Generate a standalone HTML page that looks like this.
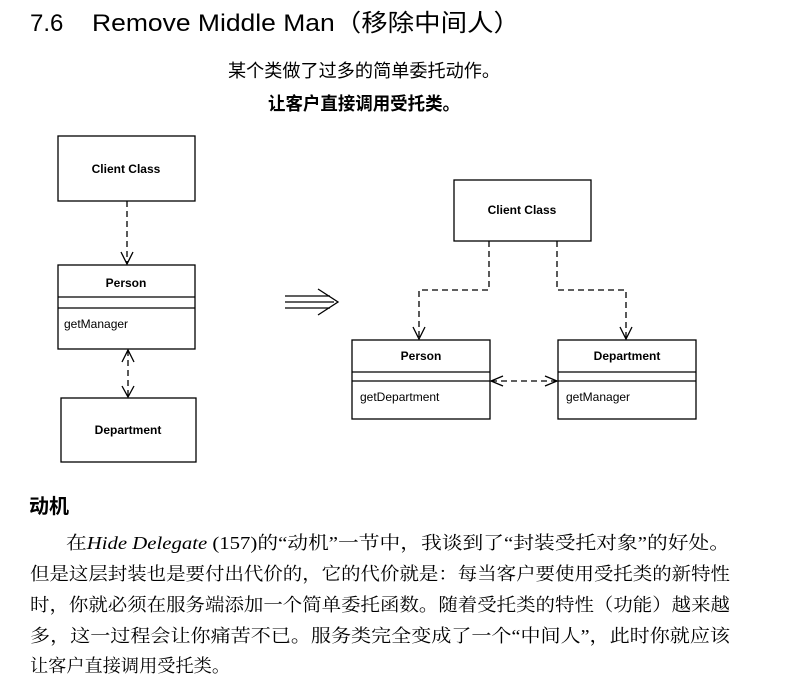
<!DOCTYPE html>
<html><head><meta charset="utf-8"><style>
html,body{margin:0;padding:0;background:#fff;}
svg{display:block}
.c{font-family:"Liberation Serif","Noto Serif CJK SC","Noto Sans CJK SC",serif;}
.s{font-family:"Liberation Sans","Noto Sans CJK SC",sans-serif;}
</style></head><body>
<svg width="793" height="676" viewBox="0 0 793 676" xmlns="http://www.w3.org/2000/svg">
<g class="s" fill="#000">
<text x="30" y="31" font-size="24">7.6</text>
<text x="92" y="31" font-size="24" textLength="428" lengthAdjust="spacingAndGlyphs">Remove Middle Man（移除中间人）</text>
<text x="228" y="77" font-size="18" textLength="272" lengthAdjust="spacingAndGlyphs">某个类做了过多的简单委托动作。</text>
<text x="268" y="110" font-size="18" font-weight="bold" textLength="192" lengthAdjust="spacingAndGlyphs">让客户直接调用受托类。</text>
<text x="29" y="513" font-size="20" font-weight="bold">动机</text>
</g>
<g class="c" fill="#000" font-size="18">
<text x="66" y="549" textLength="664" lengthAdjust="spacingAndGlyphs">在<tspan font-style="italic">Hide Delegate</tspan> (157)的“动机”一节中，我谈到了“封装受托对象”的好处。</text>
<text x="30" y="580" textLength="700" lengthAdjust="spacingAndGlyphs">但是这层封装也是要付出代价的，它的代价就是：每当客户要使用受托类的新特性</text>
<text x="30" y="611" textLength="700" lengthAdjust="spacingAndGlyphs">时，你就必须在服务端添加一个简单委托函数。随着受托类的特性（功能）越来越</text>
<text x="30" y="642" textLength="700" lengthAdjust="spacingAndGlyphs">多，这一过程会让你痛苦不已。服务类完全变成了一个“中间人”，此时你就应该</text>
<text x="30" y="672" textLength="200" lengthAdjust="spacingAndGlyphs">让客户直接调用受托类。</text>
</g>
<g fill="none" stroke="#000" stroke-width="1.3">
<!-- left -->
<rect x="58" y="136" width="137" height="65"/>
<rect x="58" y="265" width="137" height="84"/>
<line x1="58" y1="297" x2="195" y2="297"/>
<line x1="58" y1="308" x2="195" y2="308"/>
<rect x="61" y="398" width="135" height="64"/>
<line x1="127" y1="201" x2="127" y2="264" stroke-dasharray="6,4"/>
<polyline points="121,252 127,264 133,252"/>
<line x1="128" y1="350" x2="128" y2="397" stroke-dasharray="6,4"/>
<polyline points="122,362 128,350 134,362"/>
<polyline points="122,386 128,397 134,386"/>
<!-- right -->
<rect x="454" y="180" width="137" height="61"/>
<rect x="352" y="340" width="138" height="79"/>
<line x1="352" y1="372" x2="490" y2="372"/>
<line x1="352" y1="381" x2="490" y2="381"/>
<rect x="558" y="340" width="138" height="79"/>
<line x1="558" y1="372" x2="696" y2="372"/>
<line x1="558" y1="381" x2="696" y2="381"/>
<polyline points="489,241 489,290 419,290 419,339" stroke-dasharray="6,4"/>
<polyline points="413,327 419,339 425,327"/>
<polyline points="557,241 557,290 626,290 626,339" stroke-dasharray="6,4"/>
<polyline points="620,327 626,339 632,327"/>
<line x1="491" y1="381" x2="557" y2="381" stroke-dasharray="6,4"/>
<polyline points="503,376 491,381 503,386"/>
<polyline points="545,376 557,381 545,386"/>
<!-- big arrow -->
<line x1="285" y1="296" x2="330" y2="296"/>
<line x1="285" y1="302" x2="334" y2="302"/>
<line x1="285" y1="308" x2="330" y2="308"/>
<polyline points="318,289 338,302 318,315"/>
</g>
<g class="s" fill="#000" font-size="12">
<text x="126" y="173" text-anchor="middle" font-weight="bold">Client Class</text>
<text x="126" y="287" text-anchor="middle" font-weight="bold">Person</text>
<text x="64" y="328">getManager</text>
<text x="128" y="434" text-anchor="middle" font-weight="bold">Department</text>
<text x="522" y="214" text-anchor="middle" font-weight="bold">Client Class</text>
<text x="421" y="360" text-anchor="middle" font-weight="bold">Person</text>
<text x="360" y="401">getDepartment</text>
<text x="627" y="360" text-anchor="middle" font-weight="bold">Department</text>
<text x="566" y="401">getManager</text>
</g>
</svg>
</body></html>
